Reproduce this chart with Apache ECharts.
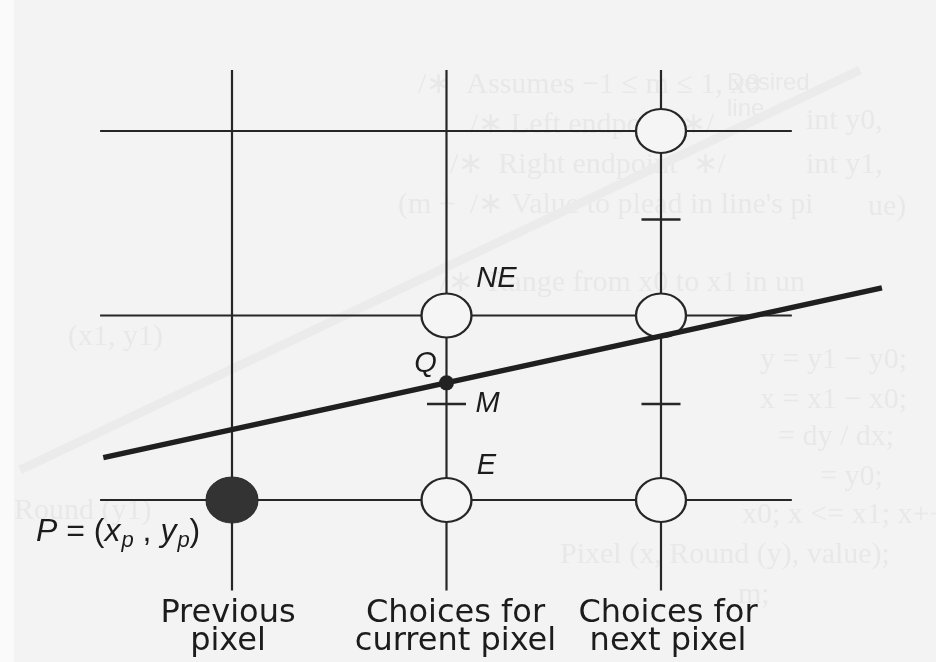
<!DOCTYPE html>
<html>
<head>
<meta charset="utf-8">
<title>Midpoint line algorithm</title>
<script src="https://cdn.jsdelivr.net/npm/echarts@6/dist/echarts.min.js"></script>
<style>
  html, body { margin: 0; padding: 0; background: #f3f3f3; }
  #chart { width: 936px; height: 662px; }
</style>
</head>
<body>
<div id="chart"></div>
<script>
// pixel grid, in pixel units: column 0 = previous pixel, 1 = current, 2 = next
const columns = [0, 1, 2];
const rows = [0, 1, 2];
const columnCaptions = ["Previous\npixel", "Choices for\ncurrent pixel", "Choices for\nnext pixel"];
const captionRow = -0.69;
const verticalSpan = [-0.49, 2.33];
const horizontalSpan = [-0.615, 2.61];

// the ideal line y = m x + b
const idealLine = [[-0.6, 0.23], [3.03, 1.15]];

// pixels
const previousPixel = [[0, 0]];
const candidatePixels = [[2, 2], [1, 1], [2, 1], [1, 0], [2, 0]];
const candidateNames = ["", "NE", "", "E", ""];

// Q = line intersection, midpoints between candidates
const pointQ = [[1, 0.635]];
const midpoints = [[1, 0.52], [2, 0.52], [2, 1.52]];
const midpointNames = ["M", "", ""];

const ink = "#262626";
const textInk = "#1c1c1c";
const letterFont = "Liberation Sans";
const ellipse = "path://M0,1 A1,1 0 1,1 2,1 A1,1 0 1,1 0,1 Z";

const chart = echarts.init(document.getElementById("chart"));

const gridSeries = [];
columns.forEach((c) => {
  gridSeries.push({
    type: "line",
    data: [[c, verticalSpan[0]], [c, verticalSpan[1]]],
    showSymbol: false,
    silent: true,
    z: 2,
    lineStyle: { color: ink, width: 2.2 },
  });
});
rows.forEach((r) => {
  gridSeries.push({
    type: "line",
    data: [[horizontalSpan[0], r], [horizontalSpan[1], r]],
    showSymbol: false,
    silent: true,
    z: 2,
    lineStyle: { color: ink, width: 2.2 },
  });
});

// faint show-through of the printed page behind the figure
const ghost = "#e8e8e8";
const ghostText = [
  ["/∗  Assumes −1 ≤ m ≤ 1, x0", 418, 70],
  ["/∗ Left endpoint ∗/", 470, 110],
  ["/∗  Right endpoint  ∗/", 450, 150],
  ["(m +", 398, 190],
  ["/∗ Value to plead in line's pi", 470, 190],
  ["/∗  Range from x0 to x1 in un", 440, 268],
  ["int y0,", 806, 106],
  ["int y1,", 806, 150],
  ["ue)", 868, 192],
  ["(x1, y1)", 68, 322],
  ["y = y1 − y0;", 760, 345],
  ["x = x1 − x0;", 760, 385],
  ["= dy / dx;", 778, 422],
  ["= y0;", 820, 462],
  ["Round (y1)", 14, 496],
  ["x0; x <= x1; x++) {", 742, 500],
  ["Pixel (x, Round (y), value);", 560, 540],
  ["m;", 738, 580],
];

const graphic = ghostText.map(([t, x, y]) => ({
  type: "text",
  left: x,
  top: y,
  z: -10,
  silent: true,
  style: { text: t, fill: ghost, font: "30px 'Liberation Serif'" },
}));
graphic.push({
  type: "text", left: 727, top: 70, z: -10, silent: true,
  style: { text: "Desired\nline", fill: ghost, font: "24px 'Liberation Sans'", lineHeight: 26 },
});
graphic.push({
  type: "line", z: -10, silent: true,
  shape: { x1: 20, y1: 470, x2: 860, y2: 70 },
  style: { stroke: "#ebebeb", lineWidth: 9 },
});
graphic.push({
  type: "rect", z: -11, silent: true,
  shape: { x: 0, y: 0, width: 14, height: 662 },
  style: { fill: "#fafafa" },
});

const labelBase = {
  show: true,
  position: "inside",
  color: textInk,
  fontFamily: letterFont,
  fontStyle: "italic",
  fontSize: 29,
  align: "center",
  verticalAlign: "middle",
};

const captionShift = [-4, 9, 7];

const option = {
  backgroundColor: "#f3f3f3",
  animation: false,
  graphic: graphic,
  grid: { left: 0, right: 0, top: 0, bottom: 0 },
  xAxis: { type: "value", min: -1.0816, max: 3.2821, show: false },
  yAxis: { type: "value", min: -0.878, max: 2.71, show: false },
  series: [
    ...gridSeries,
    {
      name: "candidates",
      type: "scatter",
      data: candidatePixels.map((p, i) => ({ value: p, name: candidateNames[i] })),
      symbol: ellipse,
      symbolSize: [50, 44],
      z: 3,
      itemStyle: { color: "#f5f5f5", borderColor: ink, borderWidth: 2.2, opacity: 1 },
      label: Object.assign({}, labelBase, { formatter: (p) => p.name }),
      labelLayout: (params) => {
        const n = candidateNames[params.dataIndex];
        if (n === "NE") return { dx: 50, dy: -37 };
        if (n === "E") return { dx: 40, dy: -34 };
        return {};
      },
    },
    {
      name: "previous",
      type: "scatter",
      data: previousPixel,
      symbol: ellipse,
      symbolSize: [52, 46],
      z: 3,
      itemStyle: { color: "#333", borderColor: "#2a2a2a", borderWidth: 1, opacity: 1 },
      label: {
        show: true,
        position: "inside",
        offset: [-196, 32],
        align: "left",
        verticalAlign: "middle",
        formatter: "{i|P}{n| = (}{i|x}{s|p}{n| , }{i|y}{s|p}{n|)}",
        rich: {
          i: { fontFamily: letterFont, fontStyle: "italic", fontSize: 32, color: textInk },
          n: { fontFamily: letterFont, fontSize: 32, color: textInk },
          s: { fontFamily: letterFont, fontStyle: "italic", fontSize: 22, color: textInk, padding: [17, 0, 0, 1] },
        },
      },
    },
    {
      name: "ideal line",
      type: "line",
      data: idealLine,
      showSymbol: false,
      silent: true,
      z: 4,
      lineStyle: { color: "#1f1f1f", width: 5.5 },
    },
    {
      name: "midpoints",
      type: "scatter",
      data: midpoints.map((p, i) => ({ value: p, name: midpointNames[i] })),
      symbol: "rect",
      symbolSize: [39, 2.4],
      z: 4,
      itemStyle: { color: ink, opacity: 1 },
      label: Object.assign({}, labelBase, { formatter: (p) => p.name, offset: [41, 0] }),
    },
    {
      name: "Q",
      type: "scatter",
      data: pointQ,
      symbolSize: 15,
      z: 5,
      itemStyle: { color: "#222", opacity: 1 },
      label: Object.assign({}, labelBase, { formatter: "Q", offset: [-21, -19] }),
    },
    {
      name: "captions",
      type: "scatter",
      data: columns.map((c) => ({ value: [c, captionRow], name: columnCaptions[c] })),
      symbolSize: 0,
      z: 5,
      itemStyle: { opacity: 1 },
      label: {
        show: true,
        position: "inside",
        formatter: (p) => p.name,
        color: textInk,
        fontFamily: "DejaVu Sans",
        fontSize: 32,
        lineHeight: 28,
        align: "center",
        verticalAlign: "middle",
      },
      labelLayout: (params) => ({ dx: captionShift[params.dataIndex] }),
    },
  ],
};

chart.setOption(option);
</script>
</body>
</html>
